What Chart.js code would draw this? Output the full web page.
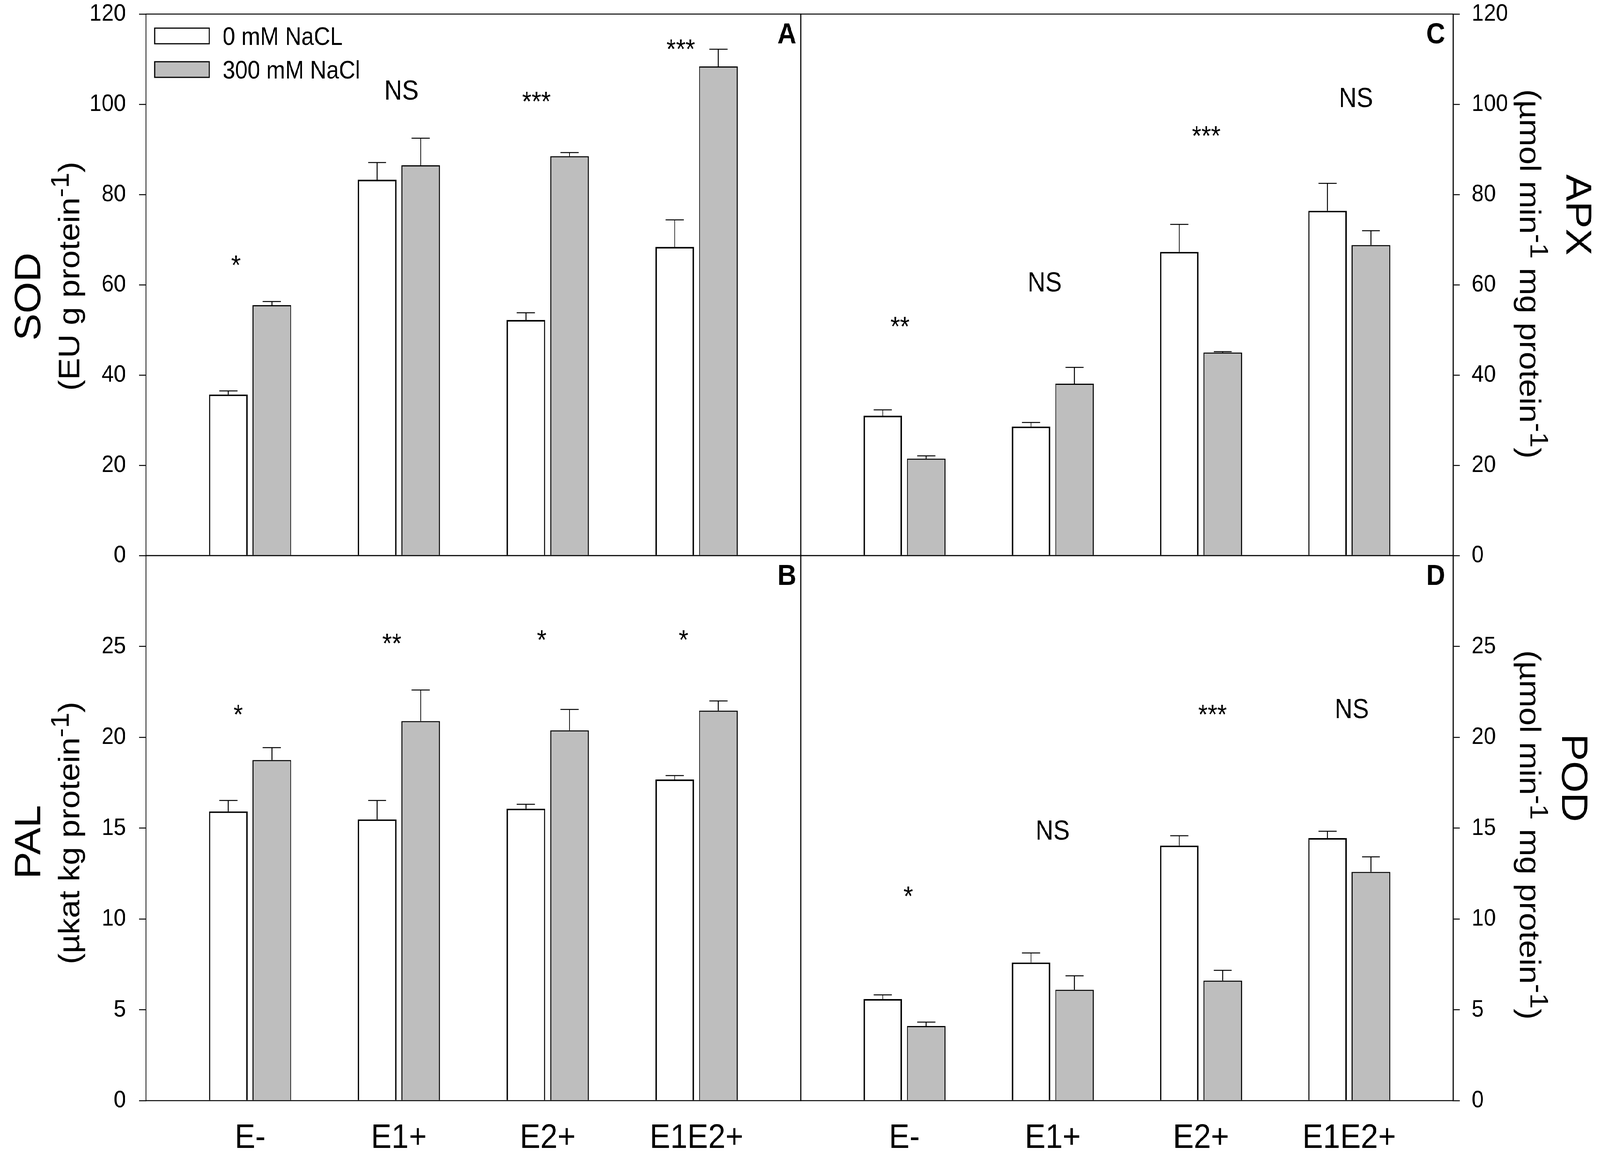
<!DOCTYPE html>
<html lang="en">
<head>
<meta charset="UTF-8">
<title>SOD, PAL, APX, POD</title>
<script src="https://cdn.jsdelivr.net/npm/chart.js"></script>
<style>
    html, body { margin: 0; background: #fff; overflow: hidden; }
    #wrap { position: relative; overflow: hidden; width: 4550px; height: 2951px; }
    #fig { position: absolute; left: 0; top: 0; width: 4550px; height: 2951px; background: #fff; transform-origin: 0 0; }
    #fig canvas { position: absolute; }
</style>
</head>
<body>
<div id="wrap">
<div id="fig">
    <canvas id="chartA" style="left:0;top:0;width:2285px;height:1470px"></canvas>
    <canvas id="chartB" style="left:0;top:1414px;width:2285px;height:1537px"></canvas>
    <canvas id="chartC" style="left:2269px;top:0;width:2281px;height:1470px"></canvas>
    <canvas id="chartD" style="left:2269px;top:1414px;width:2281px;height:1537px"></canvas>
</div>
</div>

<script>
    // categories and series
    const groups = ['E-', 'E1+', 'E2+', 'E1E2+'];
    const groupPos = [0, 1, 2, 3];
    const seriesNames = ['0 mM NaCL', '300 mM NaCl'];

    // y tick values
    const ticksTop = [0, 20, 40, 60, 80, 100, 120];
    const ticksBottom = [0, 5, 10, 15, 20, 25];

    // A: SOD
    const sod0 = [35.7, 83.3, 52.2, 68.4];
    const sod0Err = [0.8, 3.8, 1.6, 6.0];
    const sod300 = [55.5, 86.5, 88.5, 108.4];
    const sod300Err = [0.8, 6.0, 0.8, 3.8];
    const sodSig = ['*', 'NS', '***', '***'];
    const sodSigX = [-0.095, 1.017, 1.924, 2.894];
    const sodSigY = [65.7, 103.2, 102.0, 113.6];

    // B: PAL
    const pal0 = [15.92, 15.48, 16.07, 17.68];
    const pal0Err = [0.6, 1.04, 0.24, 0.21];
    const pal300 = [18.75, 20.89, 20.38, 21.47];
    const pal300Err = [0.68, 1.71, 1.15, 0.53];
    const palSig = ['*', '**', '*', '*'];
    const palSigX = [-0.08, 0.953, 1.96, 2.913];
    const palSigY = [21.6, 25.5, 25.7, 25.7];

    // C: APX
    const apx0 = [31.0, 28.6, 67.3, 76.4];
    const apx0Err = [1.3, 0.9, 6.1, 6.1];
    const apx300 = [21.5, 38.1, 45.0, 68.8];
    const apx300Err = [0.6, 3.6, 0.2, 3.2];
    const apxSig = ['**', 'NS', '***', 'NS'];
    const apxSigX = [-0.03, 0.946, 2.035, 3.045];
    const apxSigY = [52.1, 60.7, 94.4, 101.6];

    // D: POD
    const pod0 = [5.59, 7.60, 14.04, 14.45];
    const pod0Err = [0.23, 0.53, 0.54, 0.38];
    const pod300 = [4.11, 6.10, 6.61, 12.59];
    const pod300Err = [0.21, 0.77, 0.56, 0.83];
    const podSig = ['*', 'NS', '***', 'NS'];
    const podSigX = [0.026, 0.999, 2.078, 3.017];
    const podSigY = [11.6, 14.9, 21.6, 21.6];

    const FONT = '"Liberation Sans", Arial, sans-serif';
    const GRAY = '#bebebe';

    // rotated text with superscripts, centred on y; x is the baseline
    function drawRotated(ctx, parts, size, x, y, angle) {
        ctx.save();
        ctx.translate(x, y);
        ctx.rotate(angle);
        const supSize = size * 0.85;
        let total = 0;
        parts.forEach(p => {
            ctx.font = (p.sup ? supSize : size) + 'px ' + FONT;
            p.w = ctx.measureText(p.t).width;
            total += p.w;
        });
        let cx = -total / 2;
        ctx.textAlign = 'left';
        ctx.textBaseline = 'alphabetic';
        ctx.fillStyle = '#000';
        parts.forEach(p => {
            ctx.font = (p.sup ? supSize : size) + 'px ' + FONT;
            ctx.fillText(p.t, cx, p.sup ? -size * 0.36 : 0);
            cx += p.w;
        });
        ctx.restore();
    }

    const panelExtras = {
        id: 'panelExtras',
        afterDatasetsDraw(chart, args, o) {
            const ctx = chart.ctx;
            const a = chart.chartArea;
            const xs = chart.scales.x;
            const ys = chart.scales.y;
            ctx.save();

            // error bars (upper only)
            ctx.strokeStyle = '#000';
            ctx.lineWidth = 2.5;
            chart.data.datasets.forEach((ds, di) => {
                chart.getDatasetMeta(di).data.forEach((bar, i) => {
                    const yEnd = ys.getPixelForValue(ds.data[i].y + ds.errors[i]);
                    const half = bar.width * 0.235;
                    ctx.beginPath();
                    ctx.moveTo(bar.x, bar.y);
                    ctx.lineTo(bar.x, yEnd);
                    ctx.moveTo(bar.x - half, yEnd);
                    ctx.lineTo(bar.x + half, yEnd);
                    ctx.stroke();
                });
            });

            // frame
            ctx.lineWidth = 2.5;
            ctx.strokeRect(a.left, a.top, a.right - a.left, a.bottom - a.top);

            // significance marks
            ctx.fillStyle = '#000';
            ctx.textAlign = 'center';
            ctx.textBaseline = 'alphabetic';
            ctx.font = '70px ' + FONT;
            o.sig.forEach((s, i) => {
                const px = xs.getPixelForValue(o.sigX[i]);
                const py = ys.getPixelForValue(o.sigY[i]);
                const shift = s.indexOf('*') >= 0 ? 0.57 : 0.36;
                ctx.fillText(s, px, py + shift * 70);
            });

            // panel letter
            ctx.font = 'bold 75px ' + FONT;
            ctx.textAlign = 'right';
            ctx.fillText(o.letter, a.right - o.letterInset, a.top + 75);

            // legend
            if (o.legend) {
                const rows = [{ fill: '#fff', y: a.top + 36 }, { fill: GRAY, y: a.top + 122 }];
                ctx.lineWidth = 3;
                rows.forEach((r, i) => {
                    ctx.fillStyle = r.fill;
                    ctx.fillRect(a.left + 25, r.y, 155, 40);
                    ctx.strokeStyle = '#000';
                    ctx.strokeRect(a.left + 25, r.y, 155, 40);
                    ctx.fillStyle = '#000';
                    ctx.font = '64px ' + FONT;
                    ctx.textAlign = 'left';
                    ctx.fillText(seriesNames[i], a.left + 218, r.y + 20 + 23);
                });
            }

            // axis titles
            const left = o.side === 'left';
            const ang = left ? -Math.PI / 2 : Math.PI / 2;
            const edge = left ? a.left : a.right;
            const dir = left ? -1 : 1;
            drawRotated(ctx, [{ t: o.title }], 104, edge + dir * o.titleOff, a.top + o.titleY, ang);
            drawRotated(ctx, o.sub, 84, edge + dir * 190, a.top + o.subY, ang);

            ctx.restore();
        }
    };

    function makePanel(id, cfg) {
        const right = cfg.side === 'right';
        const bottom = cfg.bottom;
        new Chart(document.getElementById(id), {
            type: 'bar',
            data: {
                datasets: [
                    {
                        label: seriesNames[0],
                        data: groupPos.map((x, i) => ({ x: x, y: cfg.v0[i] })),
                        errors: cfg.e0,
                        backgroundColor: '#fff',
                        borderColor: '#000',
                        borderWidth: 4,
                        categoryPercentage: 0.586,
                        barPercentage: 0.887
                    },
                    {
                        label: seriesNames[1],
                        data: groupPos.map((x, i) => ({ x: x, y: cfg.v1[i] })),
                        errors: cfg.e1,
                        backgroundColor: GRAY,
                        borderColor: '#000',
                        borderWidth: 3,
                        categoryPercentage: 0.586,
                        barPercentage: 0.887
                    }
                ]
            },
            options: {
                responsive: false,
                maintainAspectRatio: false,
                animation: false,
                layout: {
                    padding: {
                        top: bottom ? 8 : 36,
                        bottom: bottom ? 0 : 48,
                        left: right ? 8 : 0,
                        right: right ? 0 : 8
                    }
                },
                scales: {
                    x: {
                        type: 'linear',
                        bounds: 'data',
                        offset: false,
                        min: -0.70,
                        max: 3.70,
                        display: bottom,
                        grid: { display: false },
                        border: { display: false },
                        afterBuildTicks: s => { s.ticks = groupPos.map(v => ({ value: v })); },
                        afterFit: s => { s.height = bottom ? 134 : 0; s.paddingLeft = 0; s.paddingRight = 0; },
                        ticks: {
                            autoSkip: false,
                            includeBounds: false,
                            maxRotation: 0,
                            padding: 36,
                            color: '#000',
                            font: { family: FONT, size: 88 },
                            callback: v => groups[v]
                        }
                    },
                    y: {
                        position: cfg.side,
                        min: 0,
                        max: cfg.max,
                        afterBuildTicks: s => { s.ticks = cfg.ticks.map(v => ({ value: v })); },
                        afterFit: s => { s.width = right ? 418 : 415; s.paddingTop = 0; s.paddingBottom = 0; },
                        grid: {
                            drawOnChartArea: false,
                            drawTicks: true,
                            tickLength: 19,
                            color: '#000',
                            lineWidth: 2.5
                        },
                        border: { display: true, color: '#000', width: 2.5 },
                        ticks: {
                            padding: right ? 34 : 38,
                            color: '#000',
                            font: { family: FONT, size: 62 }
                        }
                    }
                },
                plugins: {
                    legend: { display: false },
                    tooltip: { enabled: false },
                    panelExtras: {
                        side: cfg.side,
                        sig: cfg.sig, sigX: cfg.sigX, sigY: cfg.sigY,
                        letter: cfg.letter,
                        letterInset: right ? 22 : 12,
                        legend: !!cfg.legend,
                        title: cfg.title,
                        titleOff: cfg.titleOff,
                        titleY: cfg.titleY,
                        sub: cfg.sub,
                        subY: cfg.subY
                    }
                }
            },
            plugins: [panelExtras]
        });
    }

    // stretch the 4550x2951 figure over the whole viewport we get
    function fitFigure() {
        const sx = window.innerWidth / 4550;
        const sy = window.innerHeight / 2951;
        document.getElementById('fig').style.transform = 'scale(' + sx + ',' + sy + ')';
        const wrap = document.getElementById('wrap');
        wrap.style.width = (4550 * sx) + 'px';
        wrap.style.height = (2951 * sy) + 'px';
    }

    window.onload = function () {
        fitFigure();
        makePanel('chartA', {
            side: 'left', bottom: false, max: 120, ticks: ticksTop,
            v0: sod0, e0: sod0Err, v1: sod300, e1: sod300Err,
            sig: sodSig, sigX: sodSigX, sigY: sodSigY,
            letter: 'A', legend: true,
            title: 'SOD', titleOff: 301, titleY: 723,
            sub: [{ t: '(EU g protein' }, { t: '-1', sup: true }, { t: ')' }], subY: 671
        });
        makePanel('chartB', {
            side: 'left', bottom: true, max: 30, ticks: ticksBottom,
            v0: pal0, e0: pal0Err, v1: pal300, e1: pal300Err,
            sig: palSig, sigX: palSigX, sigY: palSigY,
            letter: 'B',
            title: 'PAL', titleOff: 301, titleY: 733,
            sub: [{ t: '(µkat kg protein' }, { t: '-1', sup: true }, { t: ')' }], subY: 710
        });
        makePanel('chartC', {
            side: 'right', bottom: false, max: 120, ticks: ticksTop,
            v0: apx0, e0: apx0Err, v1: apx300, e1: apx300Err,
            sig: apxSig, sigX: apxSigX, sigY: apxSigY,
            letter: 'C',
            title: 'APX', titleOff: 322, titleY: 514,
            sub: [{ t: '(µmol min' }, { t: '-1', sup: true }, { t: ' mg protein' }, { t: '-1', sup: true }, { t: ')' }], subY: 665
        });
        makePanel('chartD', {
            side: 'right', bottom: true, max: 30, ticks: ticksBottom,
            v0: pod0, e0: pod0Err, v1: pod300, e1: pod300Err,
            sig: podSig, sigX: podSigX, sigY: podSigY,
            letter: 'D',
            title: 'POD', titleOff: 310, titleY: 569,
            sub: [{ t: '(µmol min' }, { t: '-1', sup: true }, { t: ' mg protein' }, { t: '-1', sup: true }, { t: ')' }], subY: 715
        });
    };
</script>
</body>
</html>
